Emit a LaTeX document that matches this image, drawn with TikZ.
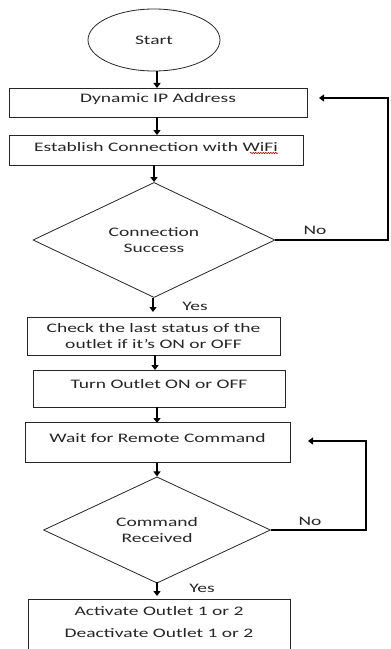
\documentclass[tikz,border=0pt]{standalone}
\usepackage{fontspec}
\setmainfont[FakeStretch=1.5]{Carlito}
\usetikzlibrary{shapes.geometric,arrows.meta,decorations.pathmorphing}
\begin{document}
\begin{tikzpicture}[x=1bp,y=-1bp,
  every node/.style={font=\fontsize{13bp}{15.5bp}\selectfont, text=black!85},
  box/.style={draw=black!85, line width=0.8bp, rectangle, inner sep=0pt},
  dec/.style={draw=black!85, line width=0.8bp, diamond, inner sep=0pt, align=center},
  arr/.style={line width=1.8bp, -{Triangle[length=5bp,width=7bp]}},
  loopline/.style={line width=1.8bp, -{Triangle[length=5bp,width=7bp]}},
  lbl/.style={inner sep=0pt},
  squiggle/.style={draw=red!75!black, line width=0.5bp, decorate, decoration={snake, amplitude=0.8bp, segment length=2.5bp}}]
\clip (0,0) rectangle (390,649);
\fill[white] (0,0) rectangle (390,649);

\node[draw=black!85, line width=0.8bp, ellipse, minimum width=132bp, minimum height=62bp, inner sep=0pt] (start) at (154,40) {Start};

\node[box, minimum width=298bp, text height=14.5bp, text depth=14.5bp] (dyn) at (158,102.5) {Dynamic IP Address};
\node[box, minimum width=294bp, text height=16.5bp, text depth=13.5bp] (est) at (156,150) {Establish Connection with WiFi};
\node[dec, minimum width=242bp, minimum height=114bp] (d1) at (154,240) {Connection\\Success};
\node[box, minimum width=253bp, minimum height=38bp, align=center] (chk) at (153.5,336) {Check the last status of the\\outlet if it’s ON or OFF};
\node[box, minimum width=252bp, text height=18.5bp, text depth=18.5bp] (turn) at (159,388.5) {Turn Outlet ON or OFF};
\node[box, minimum width=265bp, text height=19.5bp, text depth=20.5bp] (wait) at (157.5,442.5) {Wait for Remote Command};
\node[dec, minimum width=227bp, minimum height=94bp] (d2) at (157,530) {Command\\Received};
\node[box, minimum width=262bp, anchor=north, align=center, inner ysep=7bp] (fin) at (159,599) {Activate Outlet 1 or 2\\[7bp]Deactivate Outlet 1 or 2\\[30bp]\mbox{}};

\coordinate (sq1) at (250,153);
\coordinate (sq2) at (278,153);
\draw[squiggle] (sq1) -- (sq2);

\draw[arr] (start.south -| 157,0) -- (157,88);
\draw[arr] (157,117) -- (157,135);
\draw[arr] (154,165) -- (d1.north);
\draw[arr] (153,298) -- (153,312);
\node[lbl] (yes1) at (195,306) {Yes};
\draw[arr] (155,355) -- (155,370);
\draw[arr] (157,407) -- (157,423);
\draw[arr] (157,463) -- (d2.north);
\draw[arr] (157,582) -- (157,596);
\node[lbl] (yes2) at (202,588) {Yes};

\coordinate (c1) at (388,240);
\coordinate (c1t) at (319,98);
\draw[loopline] (d1.east) -- (c1) |- (c1t);
\node[lbl] (no1) at (315,230) {No};

\coordinate (c2) at (366,530);
\coordinate (c2t) at (308,441);
\draw[loopline] (d2.east) -- (c2) |- (c2t);
\node[lbl] (no2) at (310,521) {No};
\end{tikzpicture}
\end{document}
